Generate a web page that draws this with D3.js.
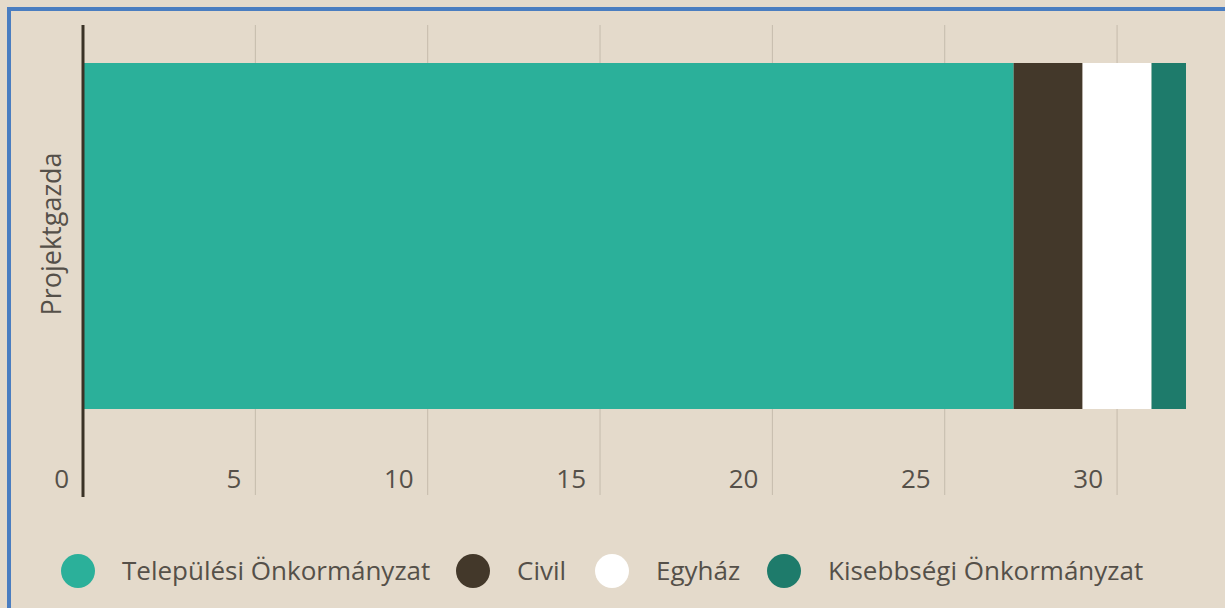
<!DOCTYPE html>
<html>
<head>
<meta charset="utf-8">
<script src="https://cdn.jsdelivr.net/npm/d3@7"></script>
<style>
  body { margin: 0; background: #E4DACB; }
  svg { display: block; }
</style>
</head>
<body>
<svg width="1225" height="608"></svg>
<script>
var categories = ['Projektgazda'];
var seriesNames = ['Települési Önkormányzat', 'Civil', 'Egyház', 'Kisebbségi Önkormányzat'];
var seriesValues = [27, 2, 2, 1];
var seriesColors = ['#2BB09A', '#43382A', '#FFFFFF', '#1E7B6B'];
var tickValues = [0, 5, 10, 15, 20, 25, 30];

var width = 1225;
var height = 608;
var font = "'Open Sans', 'DejaVu Sans', sans-serif";

var svg = d3.select('svg');

svg.append('rect')
  .attr('width', width)
  .attr('height', height)
  .attr('fill', '#E4DACB');

// blue frame (left + top only are visible in the picture)
svg.append('rect').attr('x', 7).attr('y', 7).attr('width', width - 7).attr('height', 4).attr('fill', '#4A7DC0');
svg.append('rect').attr('x', 7).attr('y', 7).attr('width', 4).attr('height', height - 7).attr('fill', '#4A7DC0');

var xScale = d3.scaleLinear()
  .domain([0, 32])
  .range([83, 1186]);

var yScale = d3.scaleBand()
  .domain(categories)
  .range([63, 409])
  .padding(0);

var colorScale = d3.scaleOrdinal()
  .domain(seriesNames)
  .range(seriesColors);

// gridlines
svg.append('g').selectAll('line').data(tickValues.slice(1)).enter()
  .append('line')
  .attr('x1', function(d) { return xScale(d); })
  .attr('x2', function(d) { return xScale(d); })
  .attr('y1', 25)
  .attr('y2', 495)
  .attr('stroke', '#C5BBAC')
  .attr('stroke-width', 1);

// stacked bar
var row = {};
seriesNames.forEach(function(name, i) { row[name] = seriesValues[i]; });
var stacked = d3.stack().keys(seriesNames)([row]);

svg.append('g').selectAll('rect').data(stacked).enter()
  .append('rect')
  .attr('x', function(d) { return xScale(d[0][0]); })
  .attr('width', function(d) { return xScale(d[0][1]) - xScale(d[0][0]); })
  .attr('y', yScale(categories[0]))
  .attr('height', yScale.bandwidth())
  .attr('fill', function(d) { return colorScale(d.key); });

// y axis line
svg.append('line')
  .attr('x1', xScale(0))
  .attr('x2', xScale(0))
  .attr('y1', 25)
  .attr('y2', 497)
  .attr('stroke', '#3A3226')
  .attr('stroke-width', 3);

// tick labels, sitting left of their gridline
svg.append('g').selectAll('text').data(tickValues).enter()
  .append('text')
  .attr('x', function(d) { return xScale(d) - 14; })
  .attr('y', 488)
  .attr('text-anchor', 'end')
  .attr('font-family', font)
  .attr('font-size', '26px')
  .attr('fill', '#555049')
  .text(function(d) { return d; });

// y axis title
svg.append('text')
  .attr('transform', 'translate(61,234) rotate(-90)')
  .attr('text-anchor', 'middle')
  .attr('font-family', font)
  .attr('font-size', '27px')
  .attr('fill', '#555049')
  .text(categories[0]);

// legend
var legendX = [78, 473, 612, 784];
var legend = svg.append('g').selectAll('g').data(seriesNames).enter()
  .append('g')
  .attr('transform', function(d, i) { return 'translate(' + legendX[i] + ',571)'; });

legend.append('circle')
  .attr('r', 17)
  .attr('fill', function(d) { return colorScale(d); });

legend.append('text')
  .attr('x', 44)
  .attr('dy', '0.35em')
  .attr('font-family', font)
  .attr('font-size', '26px')
  .attr('fill', '#555049')
  .text(function(d) { return d; });
</script>
</body>
</html>
